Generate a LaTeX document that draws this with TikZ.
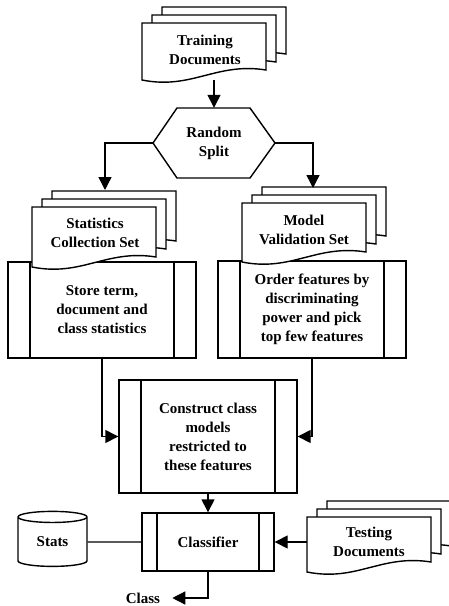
\documentclass[tikz,border=0pt]{standalone}
\usepackage{fontspec}
\setmainfont{Liberation Serif}
\usetikzlibrary{arrows.meta, shapes.geometric, calc}

% one page of a document symbol, top left corner at (#1,#2), height #3
\newcommand{\docpage}[3]{%
  \draw[line, fill=white] (#1,#2) -- (#1+124,#2) -- (#1+124,#2+#3-10)
    .. controls (#1+74,#2+#3-18) and (#1+50,#2+#3+10) .. (#1,#2+#3) -- cycle;}
% stack of three pages
\newcommand{\multidoc}[3]{%
  \docpage{#1+20}{#2-16}{#3}\docpage{#1+10}{#2-8}{#3}\docpage{#1}{#2}{#3}}

\tikzset{
  line/.style={line width=1.4pt},
  arr/.style={line, -{Triangle[length=13pt,width=13pt]}},
  lbl/.style={font=\bfseries\fontsize{15}{19}\selectfont, align=center, inner sep=0pt},
  procbox/.style={draw, line, lbl, path picture={
    \draw[line] ([xshift=#1]path picture bounding box.north west) -- ([xshift=#1]path picture bounding box.south west);
    \draw[line] ([xshift=-#1]path picture bounding box.north east) -- ([xshift=-#1]path picture bounding box.south east);}},
  procbox/.default=22pt
}

\begin{document}
\begin{tikzpicture}[x=1pt, y=-1pt]
    \useasboundingbox (0,0) rectangle (449,606);

    % process boxes
    \node[procbox, minimum width=188pt, minimum height=96pt] (store) at (102,310)
        {Store term,\\document and\\class statistics};
    \node[procbox, minimum width=188pt, minimum height=97pt] (order) at (312,309.5)
        {Order features by\\discriminating\\power and pick\\top few features};
    \node[procbox, minimum width=178pt, minimum height=113pt] (construct) at (208,436.5)
        {Construct class\\models\\restricted to\\these features};
    \node[procbox=15pt, minimum width=132pt, minimum height=58pt] (classifier) at (208,542)
        {Classifier};

    % document stacks
    \multidoc{142}{23}{57}
    \multidoc{32}{207}{60}
    \multidoc{242}{203}{59}
    \multidoc{307}{517}{55}
    \node[lbl, minimum width=124pt] (train) at (205,50) {Training\\Documents};
    \node[lbl, minimum width=124pt] (statset) at (95,233) {Statistics\\Collection Set};
    \node[lbl, minimum width=124pt] (modelset) at (304,230) {Model\\Validation Set};
    \node[lbl, minimum width=124pt] (testing) at (369,542) {Testing\\Documents};

    % random split
    \draw[line] (177,108) -- (250,108) -- (275,143) -- (250,178) -- (177,178) -- (153,143) -- cycle;
    \node[lbl, minimum width=122pt, minimum height=70pt] (split) at (214,143) {Random\\Split};

    % stats store and output
    \node[draw, line, lbl, cylinder, shape border rotate=90, aspect=0.35,
        minimum width=69pt, minimum height=55pt] (stats) at (52.5,542) {Stats};
    \node[lbl] (class) at (143,598) {Class};

    \coordinate (train-b) at (214,80);
    \coordinate (statset-t) at (105,190);
    \coordinate (modelset-t) at (313,188);

    % connectors
    \draw[arr] (train-b) -- (split.north);
    \draw[arr] (split.west) -| (statset-t);
    \draw[arr] (split.east) -| (modelset-t);
    \draw[arr] (store.south) |- (construct.west);
    \draw[arr] (order.south) |- (construct.east);
    \draw[arr] (construct.south) -- (classifier.north);
    \draw[line] (stats.east) -- (classifier.west);
    \draw[arr] (testing.west) -- (classifier.east);
    \draw[arr] (classifier.south) |- ([xshift=12pt]class.east);
\end{tikzpicture}
\end{document}
